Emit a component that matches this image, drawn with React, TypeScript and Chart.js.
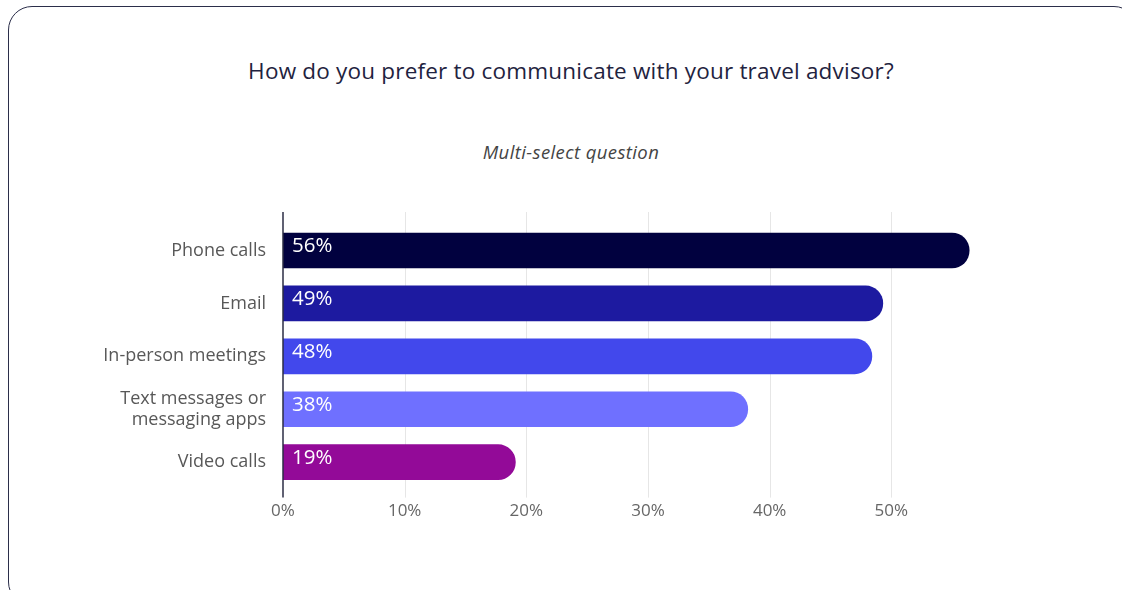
import React, { useEffect, useRef } from "react";
import { Chart, registerables } from "chart.js";

Chart.register(...registerables);

const categories: (string | string[])[] = [
  "Phone calls",
  "Email",
  "In-person meetings",
  ["Text messages or", "messaging apps"],
  "Video calls",
];
const values = [56.4, 49.3, 48.4, 38.2, 19.1];
const valueLabels = ["56%", "49%", "48%", "38%", "19%"];
const barColors = ["#01013f", "#1d1aa0", "#4248ec", "#6f70ff", "#930a98"];
const xTicks = [0, 10, 20, 30, 40, 50];

const FONT = "'Open Sans', sans-serif";

const gridPlugin = {
  id: "customGrid",
  beforeDatasetsDraw(chart: any) {
    const { ctx, scales, chartArea } = chart;
    const xs = scales.x;
    const top = chartArea.top - 12;
    const bottom = chartArea.bottom + 9;
    ctx.save();
    ctx.strokeStyle = "#e6e6e6";
    ctx.lineWidth = 1;
    xTicks.forEach((v) => {
      if (v === 0) return;
      const px = Math.round(xs.getPixelForValue(v)) + 0.5;
      ctx.beginPath();
      ctx.moveTo(px, top);
      ctx.lineTo(px, bottom);
      ctx.stroke();
    });
    ctx.restore();
  },
  afterDatasetsDraw(chart: any) {
    const { ctx, scales, chartArea } = chart;
    const xs = scales.x;
    const top = chartArea.top - 12;
    const bottom = chartArea.bottom + 9;
    ctx.save();
    ctx.strokeStyle = "#2b2d45";
    ctx.lineWidth = 1.5;
    const px = xs.getPixelForValue(0);
    ctx.beginPath();
    ctx.moveTo(px, top);
    ctx.lineTo(px, bottom);
    ctx.stroke();
    const meta = chart.getDatasetMeta(0);
    ctx.fillStyle = "#ffffff";
    ctx.font = `20.5px ${FONT}`;
    ctx.textAlign = "left";
    ctx.textBaseline = "middle";
    meta.data.forEach((bar: any, i: number) => {
      ctx.fillText(valueLabels[i], xs.getPixelForValue(0) + 9, bar.y - 4);
    });
    ctx.restore();
  },
};

export default function App() {
  const ref = useRef<HTMLCanvasElement>(null);
  useEffect(() => {
    if (!ref.current) return;
    const chart = new Chart(ref.current, {
      type: "bar",
      data: {
        labels: categories,
        datasets: [
          {
            data: values,
            backgroundColor: barColors,
            borderRadius: { topLeft: 0, bottomLeft: 0, topRight: 18, bottomRight: 18 },
            borderSkipped: false,
            barThickness: 35,
          },
        ],
      },
      options: {
        indexAxis: "y",
        animation: false,
        responsive: false,
        maintainAspectRatio: false,
        layout: { padding: { top: 224, bottom: 57, left: 0, right: 109 } },
        plugins: {
          legend: { display: false },
          tooltip: { enabled: false },
          title: { display: false },
        },
        scales: {
          x: {
            min: 0,
            max: 60,
            afterBuildTicks: (scale: any) => {
              scale.ticks = xTicks.map((v) => ({ value: v }));
            },
            grid: { display: false, drawTicks: false },
            border: { display: false },
            ticks: {
              padding: 12,
              color: "#666666",
              font: { family: FONT, size: 17 },
              callback: (v: any) => `${v}%`,
            },
          },
          y: {
            afterFit: (scale: any) => {
              scale.width = 283;
            },
            grid: { display: false, drawTicks: false },
            border: { display: false },
            ticks: {
              padding: 17,
              color: "#585858",
              font: { family: FONT, size: 18, lineHeight: 1.2 },
            },
          },
        },
      },
      plugins: [gridPlugin],
    });
    return () => chart.destroy();
  }, []);

  return (
    <div style={{ position: "fixed", inset: 0, background: "#fff", overflow: "hidden" }}>
      <div
        style={{
          position: "absolute",
          left: 8,
          top: 6,
          width: 1130,
          height: 600,
          border: "1.5px solid #2b2e4a",
          borderRadius: 24,
          boxSizing: "border-box",
        }}
      />
      <div
        style={{
          position: "absolute",
          left: 0,
          width: 1142,
          top: 55,
          textAlign: "center",
          fontFamily: FONT,
          fontSize: 22.5,
          letterSpacing: 0.2,
          color: "#1f2340",
          lineHeight: "32px",
        }}
      >
        How do you prefer to communicate with your travel advisor?
      </div>
      <div
        style={{
          position: "absolute",
          left: 0,
          width: 1142,
          top: 139,
          textAlign: "center",
          fontFamily: FONT,
          fontSize: 18.5,
          letterSpacing: 0.4,
          fontStyle: "italic",
          color: "#444444",
          lineHeight: "26px",
        }}
      >
        Multi-select question
      </div>
      <canvas
        ref={ref}
        width={1122}
        height={590}
        style={{ position: "absolute", left: 0, top: 0, width: 1122, height: 590 }}
      />
    </div>
  );
}
